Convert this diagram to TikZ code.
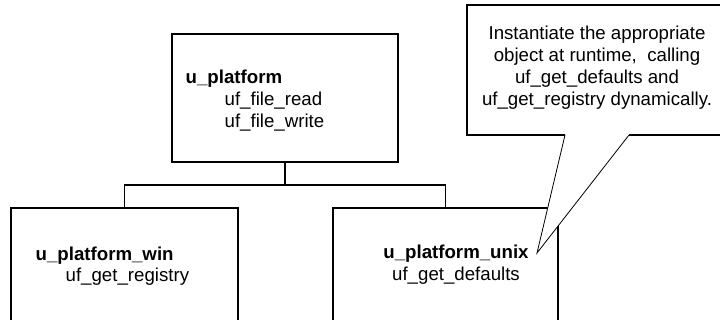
\documentclass[tikz,border=0pt]{standalone}
\usepackage{fontspec}
\setmainfont{Liberation Sans}
\begin{document}
\begin{tikzpicture}[x=0.75pt,y=-0.75pt,semithick,line width=1pt,
		cls/.style={draw,rectangle,inner sep=0pt},
		title/.style={font=\fontsize{14}{16.5}\selectfont\bfseries,inner sep=0pt,anchor=base west},
		member/.style={font=\fontsize{14}{16.5}\selectfont,inner sep=0pt,anchor=base west}]

		\useasboundingbox (0,0) rectangle (720,320);
		\clip (0,0) rectangle (720,320);

		\node(base) [cls,minimum width=169.5pt,minimum height=96pt]   at (285,98)    {};
		\node(win)  [cls,minimum width=170.25pt,minimum height=91.5pt] at (124.5,269) {};
		\node(unix) [cls,minimum width=168.75pt,minimum height=91.5pt] at (445.5,269) {};

		\node(base_t)  [title]  at (185,84)  {u\_platform};
		\node(base_m1) [member] at (224,106) {uf\_file\_read};
		\node(base_m2) [member] at (224,128) {uf\_file\_write};
		\node(win_t)   [title]  at (35,260)  {u\_platform\_win};
		\node(win_m)   [member] at (65,281)  {uf\_get\_registry};
		\node(unix_t)  [title,anchor=base]  at (456,258) {u\_platform\_unix};
		\node(unix_m)  [member,anchor=base] at (456,280) {uf\_get\_defaults};

		\coordinate(bus) at (285,185);
		\draw (base.south) -- (bus);
		\draw (win.north) |- (bus) -| (unix.north);

		% note balloon
		\coordinate(n_1) at (467,5);
		\coordinate(n_2) at (721,5);
		\coordinate(n_3) at (721,135);
		\coordinate(n_4) at (629,135);
		\coordinate(tip) at (537,253);
		\coordinate(n_5) at (565,135);
		\coordinate(n_6) at (467,135);
		\fill[white] (n_1) -- (n_2) -- (n_3) -- (n_4) -- (tip) -- (n_5) -- (n_6) -- cycle;
		\draw (n_5) -- (n_6) -- (n_1) -- (n_2) -- (n_3) -- (n_4);
		\draw[line width=0.6pt] (n_4) -- (tip) -- (n_5);
		\node(note) [font=\fontsize{14}{16.5}\selectfont,align=center,inner sep=0pt] at (597,68)
			{Instantiate the appropriate\\object at runtime,~ calling\\uf\_get\_defaults and\\uf\_get\_registry dynamically.};
	\end{tikzpicture}
\end{document}
